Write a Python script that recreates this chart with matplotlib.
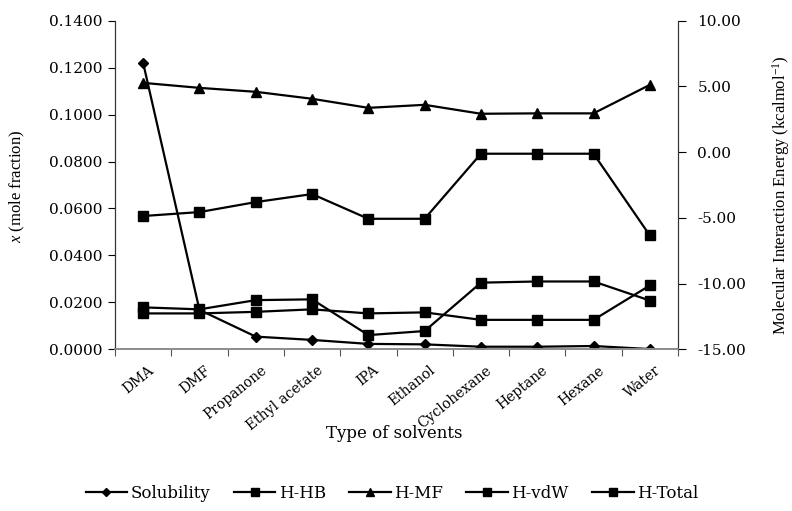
import matplotlib
matplotlib.use("Agg")
import matplotlib.pyplot as plt
from matplotlib.ticker import FixedLocator, FormatStrFormatter, NullFormatter
import numpy as np

plt.rcParams['axes.unicode_minus'] = False
plt.rcParams['mathtext.fontset'] = 'custom'
plt.rcParams['mathtext.rm'] = 'Liberation Serif'
plt.rcParams['mathtext.it'] = 'Liberation Serif:italic'
plt.rcParams['mathtext.default'] = 'regular'

solvents = ["DMA", "DMF", "Propanone", "Ethyl acetate", "IPA", "Ethanol",
            "Cyclohexane", "Heptane", "Hexane", "Water"]
solubility = [0.1220, 0.0168, 0.0054, 0.0040, 0.0023, 0.0021, 0.0011, 0.0011, 0.0014, 0.0001]
h_hb = [-12.27, -12.27, -12.15, -11.96, -12.27, -12.19, -12.76, -12.76, -12.76, -10.14]
h_mf = [5.27, 4.89, 4.59, 4.06, 3.37, 3.60, 2.92, 2.95, 2.95, 5.12]
h_vdw = [-11.81, -11.96, -11.26, -11.20, -13.92, -13.61, -9.93, -9.84, -9.84, -11.29]
h_total = [-4.86, -4.56, -3.80, -3.19, -5.07, -5.07, -0.12, -0.12, -0.12, -6.34]

serif_v = "Liberation Serif"
serif_h = "DejaVu Serif"

fig = plt.figure(figsize=(7.92, 5.11), dpi=100)
ax = fig.add_axes([115/792, 1-349.3/511, 563/792, 328.6/511])
ax2 = ax.twinx()

x = np.arange(len(solvents))
lw = 1.6
l1, = ax.plot(x, solubility, color='black', lw=lw, marker='D', ms=5.5, label='Solubility')
l2, = ax2.plot(x, h_hb, color='black', lw=lw, marker='s', ms=7, label='H-HB')
l3, = ax2.plot(x, h_mf, color='black', lw=lw, marker='^', ms=7, label='H-MF')
l4, = ax2.plot(x, h_vdw, color='black', lw=lw, marker='s', ms=7, label='H-vdW')
l5, = ax2.plot(x, h_total, color='black', lw=lw, marker='s', ms=7, label='H-Total')

ax.set_xlim(-0.5, len(solvents) - 0.5)
ax.set_ylim(0, 0.14)
ax2.set_ylim(-15, 10)
ax.set_yticks(np.arange(0, 0.1401, 0.02))
ax.yaxis.set_major_formatter(FormatStrFormatter('%.4f'))
ax2.set_yticks(np.arange(-15, 10.01, 5))
ax2.yaxis.set_major_formatter(FormatStrFormatter('%.2f'))

ax.xaxis.set_major_locator(FixedLocator(np.arange(-0.5, len(solvents), 1.0)))
ax.xaxis.set_major_formatter(NullFormatter())
ax.xaxis.set_minor_locator(FixedLocator(x + 0.08))
ax.set_xticklabels(solvents, minor=True, rotation=39, ha='right',
                   rotation_mode='anchor', fontfamily=serif_h, fontsize=10)
ax.tick_params(axis='x', which='major', direction='out', length=5, width=0.8, color='#555555')
ax.tick_params(axis='x', which='minor', length=0, pad=10)

ax.tick_params(axis='y', direction='out', length=5, width=0.8, pad=4)
ax2.tick_params(axis='y', direction='out', length=6, width=0.8, pad=8)
for lab in ax.get_yticklabels() + ax2.get_yticklabels():
    lab.set_fontfamily(serif_h)
    lab.set_fontsize(11)

for a in (ax, ax2):
    a.spines['top'].set_visible(False)
    a.spines['bottom'].set_color('#8c8c8c')
    a.spines['bottom'].set_linewidth(1.2)
    a.spines['left'].set_color('#333333')
    a.spines['right'].set_color('#333333')
    a.spines['left'].set_linewidth(0.8)
    a.spines['right'].set_linewidth(0.8)

fig.text(17/792, 1-186/511, r'$\mathit{x}$ (mole fraction)', rotation=90,
         ha='center', va='center', fontfamily=serif_v, fontsize=12)
fig.text(781/792, 1-195/511, r'Molecular Interaction Energy (kcalmol$^{-1}$)',
         rotation=90, ha='center', va='center', fontfamily=serif_v, fontsize=12)
fig.text(394/792, 1-433/511, 'Type of solvents', ha='center', va='center',
         fontfamily=serif_h, fontsize=12)

leg = fig.legend(handles=[l1, l2, l3, l4, l5], loc='center', ncol=5,
                 bbox_to_anchor=(392/792, 1-493/511), frameon=False,
                 prop={'family': serif_h, 'size': 12}, handlelength=2.5,
                 handletextpad=0.2, columnspacing=1.4, markerscale=0.75)

fig.savefig('out.png', dpi=100)
